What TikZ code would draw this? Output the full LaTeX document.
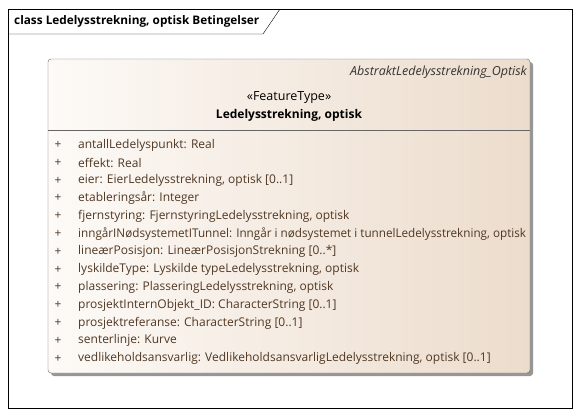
\documentclass[tikz,border=0pt]{standalone}
\usepackage{fontspec}
\setmainfont{Open Sans}
\definecolor{boxlight}{RGB}{253,250,247}
\definecolor{boxdark}{RGB}{236,220,204}
\definecolor{attrtext}{RGB}{80,56,36}
\definecolor{shadowgray}{RGB}{150,150,150}
\tikzset{
  attr/.style={anchor=west, inner sep=0pt, text=attrtext, font=\fontsize{12}{14}\selectfont},
  plus/.style={anchor=center, inner sep=0pt, text=attrtext, font=\fontsize{12}{14}\selectfont}
}

\begin{document}
\begin{tikzpicture}[x=1pt,y=-1pt]
\useasboundingbox (0,0) rectangle (581,416);
\fill[white] (0,0) rectangle (581,416);

% diagram frame
\draw (8,9) rectangle (572,408);
\draw (8,34)--(263,34)--(280,9);
\node (frametitle) [anchor=west, inner sep=0pt, font=\fontsize{11.8}{14}\selectfont\bfseries] at (14,21) {class Ledelysstrekning, optisk Betingelser};

% class box
\fill [shadowgray, rounded corners=3pt] (51,62) rectangle (533,376);
\shade [rounded corners=3pt, left color=boxlight, right color=boxdark] (48,59) rectangle (530,373);
\draw [black!60, rounded corners=3pt] (48,59) rectangle (530,373);
\draw [black!60] (48,130)--(530,130);

\node (parent) [anchor=east, inner sep=0pt, font=\fontsize{12.5}{14}\selectfont\itshape, text=black!80] at (527,72) {AbstraktLedelysstrekning\_Optisk};
\node (stereo) [inner sep=0pt, font=\fontsize{12.5}{14}\selectfont] at (289,98) {«FeatureType»};
\node (classname) [inner sep=0pt, font=\fontsize{12}{14}\selectfont\bfseries] at (289,115) {Ledelysstrekning, optisk};

% attributes
\node (p1) [plus] at (58,145) {+};
\node (a1) [attr] at (78,145) {antallLedelyspunkt: Real};
\node (p2) [plus] at (58,162.8) {+};
\node (a2) [attr] at (78,162.8) {effekt: Real};
\node (p3) [plus] at (58,180.6) {+};
\node (a3) [attr] at (78,180.6) {eier: EierLedelysstrekning, optisk [0..1]};
\node (p4) [plus] at (58,198.4) {+};
\node (a4) [attr] at (78,198.4) {etableringsår: Integer};
\node (p5) [plus] at (58,216.2) {+};
\node (a5) [attr] at (78,216.2) {fjernstyring: FjernstyringLedelysstrekning, optisk};
\node (p6) [plus] at (58,234) {+};
\node (a6) [attr] at (78,234) {\scalebox{0.975}[1]{inngårINødsystemetITunnel: Inngår i nødsystemet i tunnelLedelysstrekning, optisk}};
\node (p7) [plus] at (58,251.8) {+};
\node (a7) [attr] at (78,251.8) {lineærPosisjon: LineærPosisjonStrekning [0..*]};
\node (p8) [plus] at (58,269.6) {+};
\node (a8) [attr] at (78,269.6) {lyskildeType: Lyskilde typeLedelysstrekning, optisk};
\node (p9) [plus] at (58,287.4) {+};
\node (a9) [attr] at (78,287.4) {plassering: PlasseringLedelysstrekning, optisk};
\node (p10) [plus] at (58,305.2) {+};
\node (a10) [attr] at (78,305.2) {prosjektInternObjekt\_ID: CharacterString [0..1]};
\node (p11) [plus] at (58,323) {+};
\node (a11) [attr] at (78,323) {prosjektreferanse: CharacterString [0..1]};
\node (p12) [plus] at (58,340.8) {+};
\node (a12) [attr] at (78,340.8) {senterlinje: Kurve};
\node (p13) [plus] at (58,358.6) {+};
\node (a13) [attr] at (78,358.6) {vedlikeholdsansvarlig: VedlikeholdsansvarligLedelysstrekning, optisk [0..1]};

\end{tikzpicture}
\end{document}
